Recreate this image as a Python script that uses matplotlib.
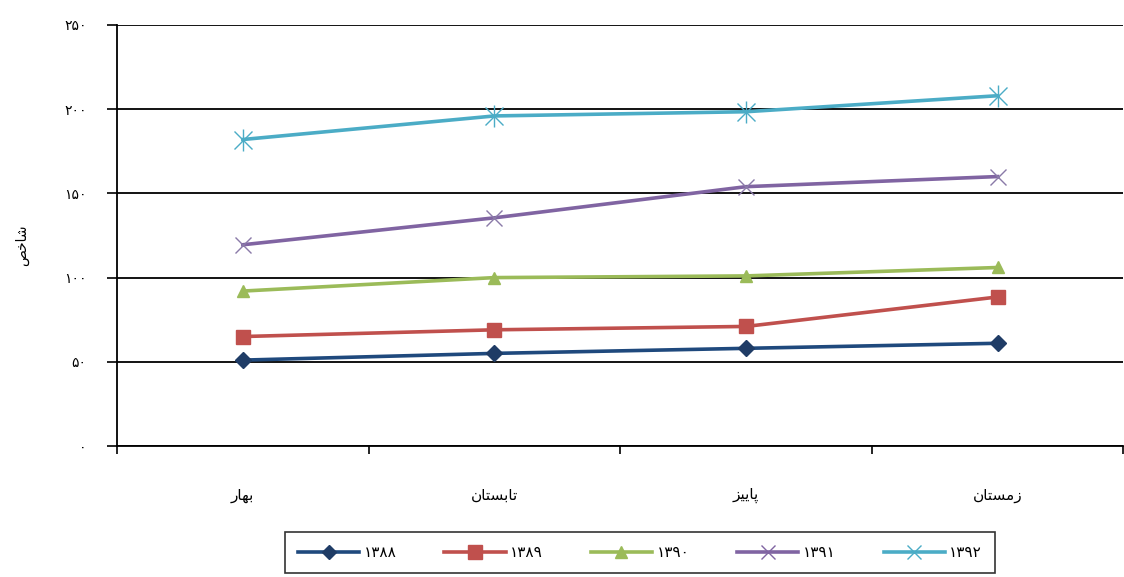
import matplotlib
matplotlib.use("Agg")
import matplotlib.pyplot as plt
from matplotlib.lines import Line2D

# ---- data ----
seasons = ["بهار", "تابستان", "پاییز", "زمستان"]
years = ["۱۳۸۸", "۱۳۸۹", "۱۳۹۰", "۱۳۹۱", "۱۳۹۲"]
v1388 = [51, 55, 58, 61]
v1389 = [65, 69, 71, 88.5]
v1390 = [92, 100, 101, 106]
v1391 = [119.5, 135.5, 154, 160]
v1392 = [182, 196, 198.5, 208]
yticks = [0, 50, 100, 150, 200, 250]
ytick_labels = ["۰", "۵۰", "۱۰۰", "۱۵۰", "۲۰۰", "۲۵۰"]
ylabel = "شاخص"

# ---- minimal Arabic/Persian shaping (matplotlib has no shaping engine) ----
FORMS = {  # isolated, final, initial, medial
    "ب": ("\uFE8F", "\uFE90", "\uFE91", "\uFE92"),
    "ه": ("\uFEE9", "\uFEEA", "\uFEEB", "\uFEEC"),
    "ا": ("\uFE8D", "\uFE8E", None, None),
    "ر": ("\uFEAD", "\uFEAE", None, None),
    "ز": ("\uFEAF", "\uFEB0", None, None),
    "ت": ("\uFE95", "\uFE96", "\uFE97", "\uFE98"),
    "س": ("\uFEB1", "\uFEB2", "\uFEB3", "\uFEB4"),
    "ن": ("\uFEE5", "\uFEE6", "\uFEE7", "\uFEE8"),
    "پ": ("\uFB56", "\uFB57", "\uFB58", "\uFB59"),
    "ی": ("\uFBFC", "\uFBFD", "\uFBFE", "\uFBFF"),
    "م": ("\uFEE1", "\uFEE2", "\uFEE3", "\uFEE4"),
    "ش": ("\uFEB5", "\uFEB6", "\uFEB7", "\uFEB8"),
    "خ": ("\uFEA5", "\uFEA6", "\uFEA7", "\uFEA8"),
    "ص": ("\uFEB9", "\uFEBA", "\uFEBB", "\uFEBC"),
}


def joins_next(ch):
    f = FORMS.get(ch)
    return f is not None and f[2] is not None


def shape(text):
    out = []
    n = len(text)
    for i, ch in enumerate(text):
        f = FORMS.get(ch)
        if f is None:
            out.append(ch)
            continue
        prev_join = i > 0 and joins_next(text[i - 1])
        next_join = i < n - 1 and text[i + 1] in FORMS and joins_next(ch)
        if prev_join and next_join:
            out.append(f[3])
        elif prev_join:
            out.append(f[1])
        elif next_join:
            out.append(f[2])
        else:
            out.append(f[0])
    return "".join(reversed(out))


plt.rcParams["font.family"] = ["DejaVu Sans"]

fig = plt.figure(figsize=(11.24, 5.77), dpi=100)
ax = fig.add_axes([117 / 1124, 1 - 446 / 577, 1 - 117 / 1124 - 0.0005, (446 - 25) / 577])

x = list(range(len(seasons)))
series = [v1388, v1389, v1390, v1391, v1392]
colors = ["#1F497D", "#C0504D", "#9BBB59", "#8064A2", "#4BACC6"]
mcolors = ["#1F3C66", "#C0504D", "#9BBB59", "#8064A2", "#4BACC6"]
markers = ["D", "s", "^", "x", "*"]
msizes = [8, 10, 9, 12, 13]

for vals, c, mc, m, ms, lab in zip(series, colors, mcolors, markers, msizes, years):
    if m == "*":
        ax.plot(x, vals, color=c, lw=2.6, zorder=3, label=lab)
        ax.plot(x, vals, ls="none", marker="x", ms=ms, mew=1.0, color=mc, zorder=4)
        ax.plot(x, vals, ls="none", marker="|", ms=ms + 3, mew=1.0, color=mc, zorder=4)
    elif m == "x":
        ax.plot(x, vals, color=c, lw=2.6, marker="x", ms=ms, mew=1.0, mec="#8a7aa8", zorder=3, label=lab)
    else:
        ax.plot(x, vals, color=c, lw=2.6, marker=m, ms=ms, mfc=mc, mec=mc, zorder=3, label=lab)

ax.set_xlim(-0.5, 3.5)
ax.set_ylim(0, 250)
ax.set_yticks(yticks)
ax.set_yticklabels(ytick_labels, fontsize=10)
for y in yticks:
    ax.axhline(y, color="black", lw=1.3, zorder=1)

ax.set_xticks(x)
ax.set_xticklabels([shape(s) for s in seasons], fontsize=11)
ax.tick_params(axis="x", which="major", length=0, pad=30)
ax.set_xticks([-0.5, 0.5, 1.5, 2.5, 3.5], minor=True)
ax.tick_params(axis="x", which="minor", length=6, width=1.2, direction="out", color="black")
ax.tick_params(axis="y", length=7, width=1.2, direction="out", pad=15)

for s in ["top", "right"]:
    ax.spines[s].set_visible(False)
ax.spines["left"].set_linewidth(1.3)
ax.spines["bottom"].set_linewidth(1.3)

fig.text(22 / 1124, 1 - 245 / 577, shape(ylabel), rotation=90, ha="center", va="center", fontsize=10)

handles = [
    Line2D([], [], color=colors[0], lw=2.6, marker="D", ms=7, mfc=mcolors[0], mec=mcolors[0]),
    Line2D([], [], color=colors[1], lw=2.6, marker="s", ms=10, mfc=mcolors[1], mec=mcolors[1]),
    Line2D([], [], color=colors[2], lw=2.6, marker="^", ms=8, mfc=mcolors[2], mec=mcolors[2]),
    Line2D([], [], color=colors[3], lw=2.6, marker="x", ms=10, mew=1.0),
    Line2D([], [], color=colors[4], lw=2.6, marker="x", ms=10, mew=1.0),
]
leg = fig.legend(handles, years, loc="lower left",
                 bbox_to_anchor=(285 / 1124, 1 - 573 / 577, 710 / 1124, 43 / 577),
                 mode="expand", borderaxespad=0,
                 ncol=5, frameon=True, fancybox=False, edgecolor="black", fontsize=11,
                 handlelength=4.0, columnspacing=2.5, borderpad=0.85, handletextpad=0.3)
leg.get_frame().set_linewidth(1.2)

fig.savefig("out.png", dpi=100)
